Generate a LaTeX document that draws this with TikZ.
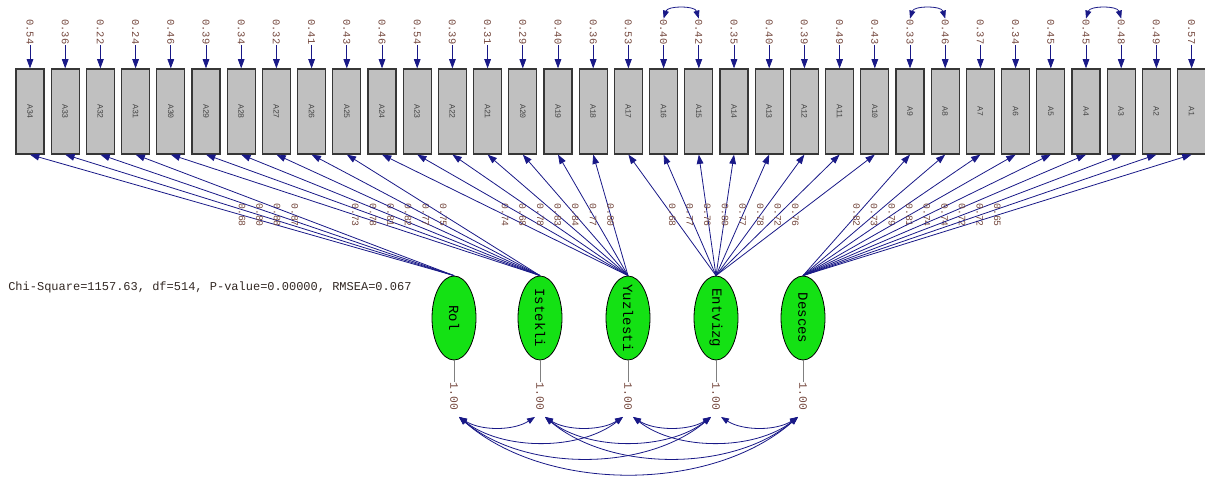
\documentclass[tikz,border=0pt]{standalone}
\usepackage{fontspec}
\usepackage{graphicx}
\setmonofont{Liberation Mono}
\usetikzlibrary{shapes.geometric,arrows.meta}
\definecolor{navy}{RGB}{25,25,135}
\definecolor{latgreen}{RGB}{20,225,20}
\definecolor{boxgray}{RGB}{192,192,192}
\definecolor{boxedge}{RGB}{55,55,55}
\definecolor{boxtxt}{RGB}{70,70,70}
\definecolor{numcol}{RGB}{115,70,60}
\definecolor{txtcol}{RGB}{50,40,35}
\newcommand{\vtext}[1]{\rotatebox{-90}{\makebox[0pt]{#1}}}
\begin{document}
\begin{tikzpicture}[x=0.75pt,y=-0.75pt,
  box/.style={draw=boxedge, line width=0.9pt, fill=boxgray, minimum width=21pt,
    minimum height=63.75pt, inner sep=0pt, text=boxtxt,
    font=\ttfamily\fontsize{6.2}{7}\selectfont},
  latent/.style={ellipse, draw=black, line width=0.6pt, fill=latgreen,
    minimum width=33pt, minimum height=63pt, inner sep=0pt,
    font=\ttfamily\fontsize{10.5}{12}\selectfont},
  errlab/.style={rotate=-90, inner sep=0.5pt, text=numcol,
    font=\ttfamily\fontsize{7.8}{8}\selectfont},
  loadlab/.style={rotate=-90, inner sep=0.5pt, text=numcol,
    font=\ttfamily\fontsize{7.3}{8}\selectfont},
  varlab/.style={rotate=-90, inner sep=0.5pt, text=numcol,
    font=\ttfamily\fontsize{8.5}{9}\selectfont},
  arr/.style={draw=navy, line width=0.6pt, -{Triangle[length=7pt,width=5pt]}},
  cov/.style={draw=navy, line width=0.6pt,
    {Triangle[length=6pt,width=4.5pt]}-{Triangle[length=6pt,width=4.5pt]}},
  stub/.style={draw=gray, line width=0.5pt}
]
\useasboundingbox (0,0) rectangle (1205,478);

% observed variables and error variances
\foreach \i/\v in {34/0.54,33/0.36,32/0.22,31/0.24,30/0.46,29/0.39,28/0.34,27/0.32,
  26/0.41,25/0.43,24/0.46,23/0.54,22/0.39,21/0.31,20/0.29,19/0.40,18/0.36,17/0.53,
  16/0.40,15/0.42,14/0.35,13/0.40,12/0.39,11/0.49,10/0.43,9/0.33,8/0.46,7/0.37,
  6/0.34,5/0.45,4/0.45,3/0.48,2/0.49,1/0.57}{
  \pgfmathsetmacro\bx{30+(34-\i)*35.2}
  \node[box] (A\i) at (\bx,111.5) {\vtext{A\i}};
  \node[errlab] (E\i) at (\bx,32) {\v};
  \draw[arr] (E\i.east) -- (A\i.north);
}

% error covariances
\draw[cov] (E16.west) .. controls +(4,-13) and +(-4,-13) .. (E15.west);
\draw[cov] (E9.west) .. controls +(4,-13) and +(-4,-13) .. (E8.west);
\draw[cov] (E4.west) .. controls +(4,-13) and +(-4,-13) .. (E3.west);

% latent variables
\node[latent] (F1) at (454,318) {\vtext{Rol}};
\node[latent] (F2) at (540,318) {\vtext{Istekli}};
\node[latent] (F3) at (628,318) {\vtext{Yuzlesti}};
\node[latent] (F4) at (716,318) {\vtext{Entvizg}};
\node[latent] (F5) at (803,318) {\vtext{Desces}};

% loadings
\foreach \i/\f/\v in {34/1/0.68,33/1/0.80,32/1/0.88,31/1/0.87,
  30/2/0.73,29/2/0.78,28/2/0.81,27/2/0.82,26/2/0.77,25/2/0.75,
  24/3/0.74,23/3/0.68,22/3/0.78,21/3/0.83,20/3/0.84,19/3/0.77,18/3/0.80,
  17/4/0.68,16/4/0.77,15/4/0.76,14/4/0.80,13/4/0.77,12/4/0.78,11/4/0.72,10/4/0.76,
  9/5/0.82,8/5/0.73,7/5/0.79,6/5/0.81,5/5/0.74,4/5/0.74,3/5/0.72,2/5/0.72,1/5/0.65}{
  \draw[arr] (F\f.north) -- node[loadlab] (L\i) {\v} (A\i.south);
}

% factor variances
\foreach \k in {1,...,5}{
  \path (F\k.south) ++(0,36) node[varlab] (V\k) {1.00};
  \draw[stub] (F\k.south) -- (V\k.west);
}

% factor covariances
\foreach \a/\b/\h in {1/2/14,2/3/14,3/4/14,4/5/14,1/3/34,2/4/34,3/5/34,1/4/55,2/5/55,1/5/76}{
  \pgfmathsetmacro\dx{0.25*87*(\b-\a)}
  \draw[cov] ([shift={(5,6)}]V\a.east) .. controls +(\dx,\h) and +(-\dx,\h) .. ([shift={(-5,6)}]V\b.east);
}

% fit statistics
\node[anchor=west, inner sep=0pt, text=txtcol, font=\ttfamily\fontsize{9}{10}\selectfont]
  (fit) at (8,287) {Chi-Square=1157.63, df=514, P-value=0.00000, RMSEA=0.067};
\end{tikzpicture}
\end{document}
